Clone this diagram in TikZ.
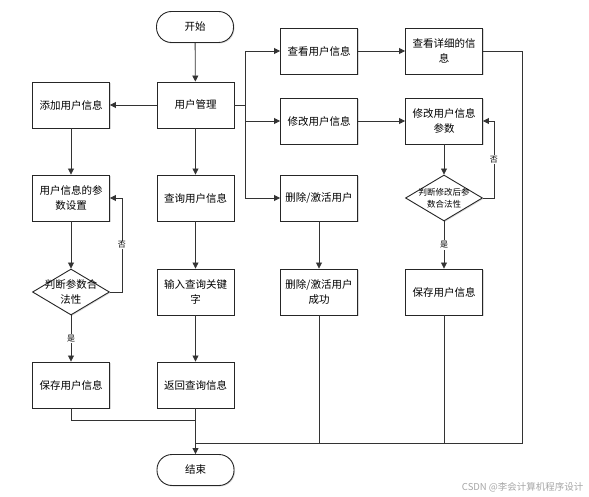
\documentclass[tikz,border=0pt]{standalone}
\usepackage{fontspec}
\newfontfamily\cjk{Noto Sans CJK SC}
\usetikzlibrary{shapes.geometric,arrows.meta,shadows}
\begin{document}
\begin{tikzpicture}[x=1pt,y=-1pt,
  box/.style={draw=black!85,line width=0.9pt,fill=white,minimum width=77pt,minimum height=46pt,
    inner sep=1pt,align=center,font=\cjk\fontsize{10.5}{15}\selectfont,
    drop shadow={shadow xshift=1pt,shadow yshift=-1pt,fill=black!25,opacity=0.6}},
  term/.style={box,minimum height=31pt,rounded corners=15pt},
  dia/.style={diamond,draw=black!85,line width=0.9pt,fill=white,minimum width=77pt,minimum height=46pt,
    inner sep=0pt,aspect=1.67,
    drop shadow={shadow xshift=1pt,shadow yshift=-1pt,fill=black!25,opacity=0.6}},
  dtext/.style={align=center,inner sep=0pt},
  line/.style={draw=black!80,line width=0.8pt},
  arr/.style={line,-{Triangle[length=6pt,width=6pt]}},
  yn/.style={fill=white,inner sep=1pt,font=\cjk\fontsize{8}{9}\selectfont}]
\useasboundingbox (0,0) rectangle (589,497);

% nodes
\node[term] (start) at (195,27) {开始};
\node[box] (um) at (195.5,105) {用户管理};
\node[box] (add) at (71,105) {添加用户信息};
\node[box] (param) at (71,198) {用户信息的参\\数设置};
\node[dia] (d1) at (71,292) {};
\node[dtext,font=\cjk\fontsize{10.5}{15}\selectfont] (d1t) at (d1.center) {判断参数合\\法性};
\node[box] (save1) at (71,385) {保存用户信息};
\node[box] (query) at (195.5,198) {查询用户信息};
\node[box] (kw) at (195.5,292) {输入查询关键\\字};
\node[box] (ret) at (195.5,385) {返回查询信息};
\node[term] (end) at (195.5,470) {结束};

\node[box] (view) at (319,51) {查看用户信息};
\node[box] (modify) at (319,121) {修改用户信息};
\node[box] (del) at (319,198) {删除/激活用户};
\node[box] (delok) at (319,292) {删除/激活用户\\成功};
\node[box] (detail) at (444,51) {查看详细的信\\息};
\node[box] (mparam) at (444,121) {修改用户信息\\参数};
\node[dia] (d2) at (444,198) {};
\node[dtext,font=\cjk\fontsize{8.5}{12}\selectfont] (d2t) at (d2.center) {判断修改后参\\数合法性};
\node[box] (save2) at (444,292) {保存用户信息};

\node[font=\cjk\fontsize{9.5}{11}\selectfont,text=black!35,anchor=east] (wm) at (587,487) {CSDN @李会计算机程序设计};

% coordinates
\coordinate (br) at (245,105);
\coordinate (j1) at (195.5,420);
\coordinate (j2) at (195.5,443);

% connectors
\draw[arr] (start) -- (um);
\draw[arr] (um) -- (add);
\draw[arr] (um) -- (query);
\draw[line] (um.east) -- (br);
\draw[arr] (br) |- (view.west);
\draw[arr] (br) |- (modify.west);
\draw[arr] (br) |- (del.west);
\draw[arr] (view) -- (detail);
\draw[arr] (modify) -- (mparam);
\draw[arr] (del) -- (delok);

\draw[arr] (add) -- (param);
\draw[arr] (param) -- (d1.north);
\draw[arr] (d1.south) -- node[yn,pos=0.5] {是} (save1);
\draw[arr] (d1.east) -- ++(12,0) |- node[yn,pos=0.25] {否} (param.east);

\draw[arr] (query) -- (kw);
\draw[arr] (kw) -- (ret);
\draw[line] (save1.south) |- (j1);
\draw[arr] (ret) -- (end);

\draw[arr] (mparam) -- (d2.north);
\draw[arr] (d2.south) -- node[yn,pos=0.5] {是} (save2);
\draw[arr] (d2.east) -- ++(11,0) |- node[yn,pos=0.25] {否} (mparam.east);

\draw[line] (detail.east) -- ++(39,0) |- (j2);
\draw[line] (delok.south) -- (delok.south |- j2);
\draw[line] (save2.south) -- (save2.south |- j2);
\end{tikzpicture}
\end{document}
